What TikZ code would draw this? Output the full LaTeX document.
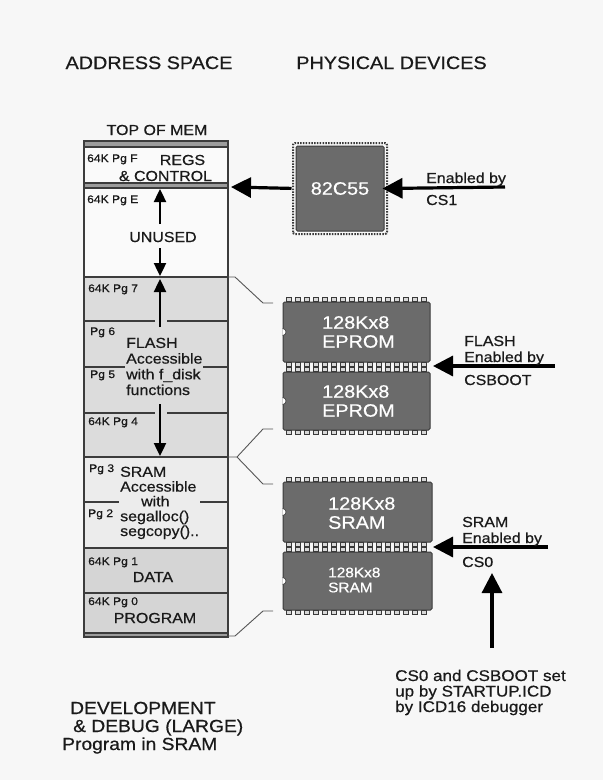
\documentclass[tikz,border=0pt]{standalone}
\usepackage{fontspec}
\setmainfont[FakeStretch=1.1,FakeBold=0.6]{Liberation Sans}
\usetikzlibrary{arrows.meta,calc}
\definecolor{bgc}{HTML}{F7F7F7}
\definecolor{ink}{HTML}{1A1A1A}
\definecolor{colink}{HTML}{3C3C3C}
\definecolor{flashc}{HTML}{DCDCDC}
\definecolor{sramc}{HTML}{ECECEC}
\definecolor{datac}{HTML}{D5D5D5}
\definecolor{freec}{HTML}{FAFAFA}
\definecolor{bandc}{HTML}{9C9C9C}
\definecolor{chipc}{HTML}{6B6B6B}
\definecolor{chipe}{HTML}{3A3A3A}
\definecolor{pinc}{HTML}{D8D8D8}
\definecolor{connc}{HTML}{555555}
\tikzset{
 pg/.style={inner sep=0pt, anchor=base west, text=ink, font=\fontsize{11}{12}\selectfont},
 lbl/.style={inner sep=0pt, text=ink, font=\fontsize{14.5}{15.5}\selectfont},
 head/.style={inner sep=0pt, anchor=base, text=ink, font=\fontsize{18}{20}\selectfont},
 chipbody/.style={draw=chipe, fill=chipc, line width=1pt, rounded corners=1.5pt, inner sep=0pt},
 chiptxt/.style={inner sep=0pt, text=white, align=left, anchor=west, font=\fontsize{18}{19}\selectfont},
 pin/.style={draw=chipe, fill=pinc, line width=0.6pt},
 colline/.style={draw=colink, line width=1.3pt},
 conn/.style={draw=connc, line width=0.9pt},
 bigarr/.style={draw=black, line width=3.2pt, -{Triangle[length=20pt,width=20pt]}},
 colarr/.style={draw=black, line width=2.4pt, -{Triangle[length=13pt,width=12pt]}},
}
\newcommand{\chippins}[3]{%
  \foreach \i in {0,...,15}{\draw[pin] ($(#1.#2)+(4+\i*9,0)$) rectangle ++(5,#3);}}
\begin{document}
\begin{tikzpicture}[x=1pt,y=-1pt]
\useasboundingbox (0,0) rectangle (603,780);
\fill[bgc] (0,0) rectangle (603,780);

% headings
\node[head] (hAS) at (149,69) {ADDRESS SPACE};
\node[head] (hPD) at (391.5,69) {PHYSICAL DEVICES};
\node[lbl, anchor=base] (topm) at (157,135) {TOP OF MEM};

% memory column
\fill[freec] (84,147) rectangle (228,277);
\fill[flashc] (84,277) rectangle (228,457);
\fill[sramc] (84,457) rectangle (228,548);
\fill[datac] (84,548) rectangle (228,633);
\draw[colline] (84,277) -- (228,277);
\draw[colline] (84,321) -- (155,321) (167,321) -- (228,321);
\draw[colline] (84,367) -- (228,367);
\draw[colline] (84,413) -- (155,413) (167,413) -- (228,413);
\draw[colline] (84,457) -- (228,457);
\draw[colline] (84,502) -- (228,502);
\draw[colline] (84,548) -- (228,548);
\draw[colline] (84,593) -- (228,593);
\draw[colline, fill=bandc] (84,141) rectangle (228,147);
\draw[colline, fill=bandc] (84,183) rectangle (228,188);
\draw[colline, fill=bandc] (84,633) rectangle (228,637);
\draw[colline] (84,141) rectangle (228,637);

\coordinate (k7) at (228,277);
\coordinate (k3) at (228,457);
\coordinate (k0) at (228,636);
\coordinate (kE) at (231,187);

% page labels
\node[pg] (pF) at (87,162) {64K Pg F};
\node[pg] (pE) at (87,203) {64K Pg E};
\node[pg] (p7) at (88,292) {64K Pg 7};
\node[pg] (p6) at (90,335) {Pg 6};
\node[pg] (p5) at (90,378) {Pg 5};
\node[pg] (p4) at (88,425) {64K Pg 4};
\node[pg] (p3) at (89,472) {Pg 3};
\node[pg] (p2) at (88,517) {Pg 2};
\node[pg] (p1) at (88,565) {64K Pg 1};
\node[pg] (p0) at (88,605) {64K Pg 0};

% region texts
\node[lbl, anchor=base] (regs) at (182.5,165) {REGS};
\node[lbl, anchor=base] (ctrl) at (165.5,181) {\& CONTROL};
\node[lbl, anchor=base] (unused) at (163,242) {UNUSED};
\node[lbl, anchor=base west, align=left, fill=flashc, inner sep=1pt,
      font=\fontsize{14.5}{15.7}\selectfont] (flash) at (125,395)
  {FLASH\\Accessible\\with f\_disk\\functions};
\node[lbl, anchor=base west, align=left, fill=sramc, inner sep=1pt,
      font=\fontsize{14.5}{14.8}\selectfont] (sram) at (119,536)
  {SRAM\\Accessible\\\hspace*{21pt}with\\segalloc()\\segcopy()..};
\node[lbl, anchor=base] (data) at (153,582) {DATA};
\node[lbl, anchor=base] (prog) at (155,623) {PROGRAM};

% arrows inside column
\coordinate (u1a) at (160,224); \coordinate (u1b) at (160,189);
\coordinate (d1a) at (160,248); \coordinate (d1b) at (160,276);
\coordinate (u2a) at (160,327); \coordinate (u2b) at (160,279);
\coordinate (d2a) at (160,404); \coordinate (d2b) at (160,456);
\draw[colarr] (u1a) -- (u1b);
\draw[colarr] (d1a) -- (d1b);
\draw[colarr] (u2a) -- (u2b);
\draw[colarr] (d2a) -- (d2b);

% chips
\node[chipbody, minimum width=88, minimum height=85, text=white,
      font=\fontsize{18}{19}\selectfont] (pp) at (340,188.5) {82C55};
\draw[chipe, line width=2pt, dash pattern=on 1.5pt off 1.3pt, rounded corners=2pt]
  ($(pp.south west)+(-2.5,2.5)$) rectangle ($(pp.north east)+(2.5,-2.5)$);

\node[chipbody, minimum width=147, minimum height=60] (ep1) at (356.5,332) {};
\node[chipbody, minimum width=147, minimum height=58] (ep2) at (356.5,401) {};
\node[chipbody, minimum width=149, minimum height=60] (sr1) at (357.5,512) {};
\node[chipbody, minimum width=149, minimum height=58] (sr2) at (357.5,581) {};
\foreach \c in {ep1,ep2,sr1,sr2}{
  \chippins{\c}{north west}{-4}
  \chippins{\c}{south west}{4}
  \begin{scope}
    \clip (\c.south west) rectangle (\c.north east);
    \draw[chipe, fill=white, line width=0.6pt] (\c.west) circle (3.5);
  \end{scope}
}
\node[chiptxt] (t1) at (322,332) {128Kx8\\EPROM};
\node[chiptxt] (t2) at (322,401) {128Kx8\\EPROM};
\node[chiptxt] (t3) at (328,513) {128Kx8\\SRAM};
\node[chiptxt, font=\fontsize{14}{15}\selectfont] (t4) at (328,580) {128Kx8\\SRAM};

% connectors column -> chips
\coordinate (e1t) at (273,303);
\coordinate (e2b) at (273,429);
\coordinate (s1t) at (273,484);
\coordinate (s2b) at (273,611);
\draw[conn] (k7) -- ++(7,0) -- (263,303) -- (e1t);
\draw[conn] (k3) -- ++(9,0) -- (263,429) -- (e2b);
\draw[conn] ($(k3)+(9,0)$) -- (263,484) -- (s1t);
\draw[conn] (k0) -- ++(7,0) -- (263,611) -- (s2b);

% big arrows
\coordinate (a1s) at (505,187);
\coordinate (a2s) at (555,366); \coordinate (a2t) at (433,366);
\coordinate (a3s) at (548,547); \coordinate (a3t) at (433,547);
\coordinate (a4s) at (492,648); \coordinate (a4t) at (492,573);
\draw[bigarr, shorten >=-2pt] (a1s) -- (pp.east);
\draw[bigarr, shorten <=4pt] (pp.west) -- (kE);
\draw[bigarr] (a2s) -- (a2t);
\draw[bigarr] (a3s) -- (a3t);
\draw[bigarr] (a4s) -- (a4t);

% side labels
\node[lbl, anchor=base west] (en1) at (426,183) {Enabled by};
\node[lbl, anchor=base west] (cs1) at (426,205) {CS1};
\node[lbl, anchor=base west] (fl1) at (464,346) {FLASH};
\node[lbl, anchor=base west] (fl2) at (464,362) {Enabled by};
\node[lbl, anchor=base west] (fl3) at (464,385) {CSBOOT};
\node[lbl, anchor=base west] (sr1l) at (462,527) {SRAM};
\node[lbl, anchor=base west] (sr2l) at (462,543) {Enabled by};
\node[lbl, anchor=base west] (sr3l) at (462,567) {CS0};

% bottom texts
\node[lbl, anchor=base west, align=left, font=\fontsize{15.5}{15.5}\selectfont] (note) at (395,712)
  {CS0 and CSBOOT set\\up by STARTUP.ICD\\by ICD16 debugger};
\node[lbl, anchor=base west, font=\fontsize{17.5}{19}\selectfont] (dv1) at (70,714) {DEVELOPMENT};
\node[lbl, anchor=base west, font=\fontsize{17.5}{19}\selectfont] (dv2) at (73,732) {\& DEBUG (LARGE)};
\node[lbl, anchor=base west, font=\fontsize{17.5}{19}\selectfont] (dv3) at (62,750) {Program in SRAM};
\end{tikzpicture}
\end{document}
